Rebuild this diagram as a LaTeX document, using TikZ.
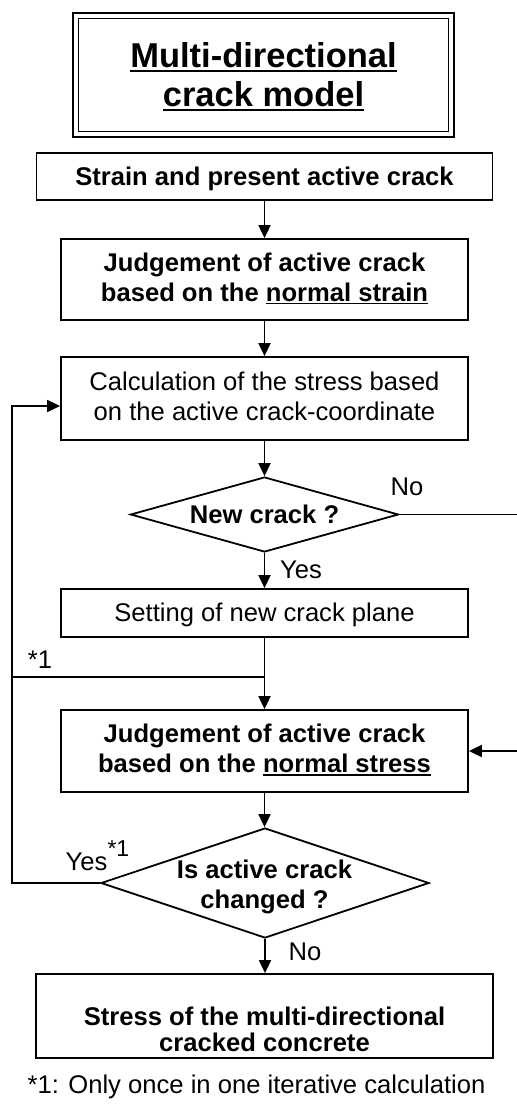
\documentclass[tikz,border=0pt]{standalone}
\usepackage{fontspec}
\setmainfont{Liberation Sans}
\usetikzlibrary{arrows.meta,shapes.geometric}

% underline drawn as a rule just below the baseline
\newcommand\undl[1]{\setbox0\hbox{#1}\rlap{\rule[-0.12em]{\wd0}{0.06em}}\box0}
% strut with the ascent/descent of the sans face
\newcommand\ppstrut{\rule[-0.212em]{0pt}{1.117em}}

\tikzset{
  body/.style={font=\fontsize{25.6}{30}\selectfont},
  boldbody/.style={font=\bfseries\fontsize{25.6}{30}\selectfont},
  box/.style={draw, rectangle, line width=1.8pt, inner sep=0pt, align=center,
    minimum width=407pt, execute at begin node=\ppstrut, execute at end node=\ppstrut},
  decision/.style={draw, diamond, line width=1.8pt, inner sep=0pt},
  dtext/.style={boldbody, inner sep=0pt, align=center,
    execute at begin node=\ppstrut, execute at end node=\ppstrut},
  flow/.style={line width=1.8pt, -{Triangle[width=12pt,length=13pt]}},
  wire/.style={line width=1.8pt},
  lbl/.style={body, inner sep=0pt, anchor=base},
}

\begin{document}
\begin{tikzpicture}[x=1pt,y=-1pt]
\useasboundingbox (0,0) rectangle (517,1104);

% title frame: thick outer line, thin inner line
\node[draw, rectangle, line width=2.5pt, outer sep=0pt, inner sep=0pt,
  minimum width=381pt, minimum height=124pt] (title) at (263.5,75) {};
\draw[line width=1.2pt] ([xshift=5.5pt,yshift=-5.5pt]title.north west)
  rectangle ([xshift=-5.5pt,yshift=5.5pt]title.south east);
\node[font=\bfseries\fontsize{34.5}{39}\selectfont, inner sep=0pt, align=center,
  execute at begin node=\ppstrut, execute at end node=\ppstrut]
  (titletxt) at (263.5,78.5) {\undl{Multi-directional}\\\undl{crack model}};

% process steps
\node[box, boldbody, minimum width=456pt, minimum height=47pt] (b1) at (264.5,176.5)
  {Strain and present active crack};
\node[box, boldbody, minimum height=81pt] (b2) at (264.5,279.5)
  {Judgement of active crack\\based on the \undl{normal strain}};
\node[box, body, minimum height=83pt] (b3) at (264.5,398.5)
  {Calculation of the stress based\\on the active crack-coordinate};
\node[decision, minimum width=268pt, minimum height=75pt] (d1) at (264.5,514.5) {};
\node[dtext] (d1t) at (264.5,514.6) {New crack ?};
\node[box, body, minimum height=48pt] (b4) at (264.5,613)
  {Setting of new crack plane};
\node[box, boldbody, minimum height=82pt] (b5) at (264.5,751)
  {Judgement of active crack\\based on the \undl{normal stress}};
\node[decision, minimum width=328pt, minimum height=110pt] (d2) at (265,883) {};
\node[dtext] (d2t) at (264.5,887.4) {Is active crack\\changed ?};
\node[draw, rectangle, line width=1.8pt, inner sep=0pt, minimum width=457pt,
  minimum height=84pt] (b6) at (264.5,1016) {};
\node[font=\bfseries\fontsize{25.6}{26}\selectfont, inner sep=0pt, align=center,
  execute at begin node=\ppstrut, execute at end node=\ppstrut]
  (b6t) at (264.5,1031.9) {Stress of the multi-directional\\cracked concrete};

% labels
\node[lbl] (no1) at (407,495) {No};
\node[lbl] (yes1) at (301,578.3) {Yes};
\node[lbl] (star) at (40,668.3) {*1};
\node[lbl] (yes2) at (97.5,870) {Yes\raisebox{13.3pt}{\fontsize{23}{23}\selectfont*1}};
\node[lbl] (no2) at (305,960) {No};
\node[lbl] (note) at (256.5,1093.3) {*1: Only once in one iterative calculation};

% routing points
\coordinate (r1) at (518,514.5);
\coordinate (r2) at (518,751);
\coordinate (lb) at (12,883);
\coordinate (lt) at (12,406);
\coordinate (jl) at (12,677);
\coordinate (jr) at (264.5,677);

% connectors
\draw[flow] (b1) -- (b2);
\draw[flow] (b2) -- (b3);
\draw[flow] (b3) -- (d1.north);
\draw[flow] (d1.south) -- (b4);
\draw[flow] (d1.east) -- (r1) -- (r2) -- (b5.east);
\draw[flow] (b4) -- (b5);
\draw[wire] (jl) -- (jr);
\draw[flow] (b5) -- (b5 |- d2.north);
\draw[flow] (d2.south) -- (d2.south |- b6.north);
\draw[flow] (d2.west) -- (lb) -- (lt) -- (lt -| b3.west);
\end{tikzpicture}
\end{document}
